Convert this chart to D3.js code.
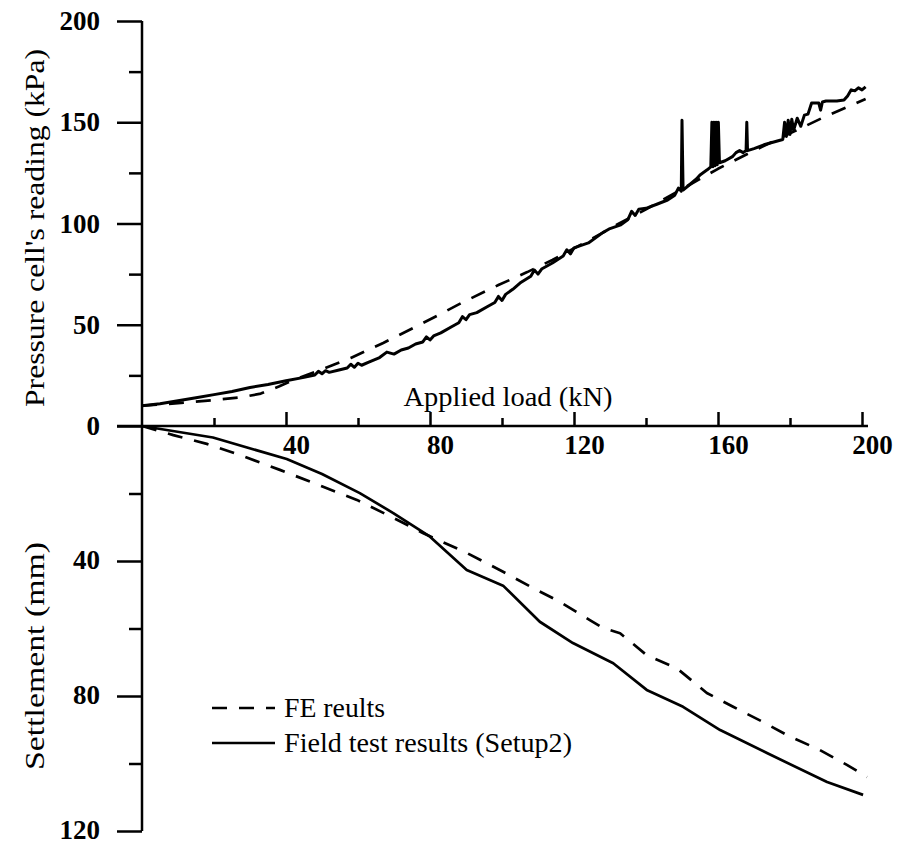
<!DOCTYPE html>
<html>
<head>
<meta charset="utf-8">
<style>
    body { margin: 0; background: #fff; }
    text { font-family: "Liberation Serif", "Times New Roman", serif; fill: #000; }
</style>
</head>
<body>
<svg width="907" height="844"></svg>
<script src="https://d3js.org/d3.v7.min.js"></script>
<script>
    // applied load (kN) vs pressure cell reading (kPa)
    var pressureFE = [
        [0, 10], [10, 11.3], [20, 12.8], [28, 14.3], [33, 16], [38, 19.5], [42, 22.7],
        [50, 28], [58, 33.6], [67, 41], [76, 49], [84, 56.3], [89, 61], [99, 69.6],
        [107, 76], [114, 82], [124, 91.5], [132, 99.5], [140, 107], [150, 117],
        [160, 127], [170, 136], [180, 144.5], [190, 153], [201, 161.5]
    ];
    var pressureField = [
        [0, 10], [5, 11], [10, 12.5], [15, 14], [20, 15.5], [25, 17], [30, 19], [35, 20.5],
        [40, 22.3], [45, 24], [48, 25.2], [49, 27], [50, 25.8], [51, 27.3], [52, 26.5],
        [55, 27.8], [57, 28.6], [58, 30.5], [59, 29], [60, 31], [61, 30], [63, 31.5],
        [66, 33.8], [68, 36.5], [70, 35.5], [72, 37.5], [74, 38.5], [76, 40.5], [78, 41.5],
        [79, 44], [80, 42.5], [81, 44.5], [83, 46], [86, 49], [88, 51], [89, 54], [90, 52.5],
        [91, 55], [93, 56], [96, 59], [98, 61], [99, 64], [100, 62], [101, 65], [103, 67.5],
        [105, 70.6], [108, 74], [109, 77], [110, 75], [111, 77.5], [114, 80.5], [117, 84],
        [118, 87], [119, 85], [120, 88], [124, 90.4], [128, 95.5], [130, 97.5], [133, 99.3],
        [135, 102], [136, 106], [137, 104], [138, 107], [140, 107.5], [143, 109.5],
        [146, 111.6], [148, 114], [149, 117.5], [149.8, 116], [150, 151], [150.3, 116.5],
        [152, 119], [154, 122], [155, 124], [157, 126.5], [158, 128], [158.3, 150],
        [158.6, 128], [158.9, 150], [159.2, 128.5], [159.5, 150], [159.8, 129], [160.1, 150],
        [160.4, 130], [162, 131], [164, 133], [165, 135], [166, 136], [167, 135],
        [167.8, 136], [168, 150], [168.2, 136], [170, 137], [173, 139], [176, 140.5],
        [178, 141.5], [178.5, 150], [179, 143], [179.5, 151], [180, 144], [180.5, 151.5],
        [181, 146], [182, 152], [183, 148], [184, 153.5], [185, 154], [186, 159.5],
        [188, 159.5], [188.5, 156], [189, 160], [190, 160.5], [193, 160.5], [195, 161],
        [196, 163], [197, 166], [198, 165.5], [199, 167], [200, 166], [201, 167.5]
    ];

    // applied load (kN) vs settlement (mm)
    var settleFE = [
        [0, 0], [8.7, 2.7], [18, 5.3], [27.2, 8.6], [38.3, 13], [50.3, 18], [59.7, 21.9],
        [69.8, 27.2], [78, 31.7], [90.2, 37.6], [96.7, 41.2], [100.3, 43.2], [108.6, 48],
        [116.1, 52.1], [124.4, 57.5], [128, 59.8], [132.8, 61.4], [140.2, 67.9],
        [148.6, 71.8], [156.9, 79.1], [164.2, 83.2], [172.5, 87.7], [179.2, 91.6],
        [188.3, 96], [195.8, 100.4], [201.4, 104]
    ];
    var settleField = [
        [0, 0], [19.7, 3.4], [40.2, 9.8], [50, 14.2], [60.5, 19.9], [69.8, 25.8], [80, 32.8],
        [90.2, 42.7], [100.3, 47.3], [110.5, 58], [119.7, 64.3], [130.9, 70.3],
        [140.2, 78.2], [150.3, 83.2], [160.6, 90.1], [173.6, 96.9], [190.3, 105.5],
        [200.3, 109.3]
    ];

    var loadTicks = [40, 80, 120, 160, 200],
        loadMinor = [20, 60, 100, 140, 180],
        pressureTicks = [0, 50, 100, 150, 200],
        pressureMinor = [25, 75, 125, 175],
        settleTicks = [40, 80, 120],
        settleMinor = [20, 60, 100];

    var legendItems = [
        { label: "FE reults", dash: "15,12", len: 101 },
        { label: "Field test results (Setup2)", dash: null, len: 288 }
    ];

    var svg = d3.select("svg");

    var x = d3.scaleLinear().domain([0, 200]).range([142, 862]);
    var yTop = d3.scaleLinear().domain([0, 200]).range([426, 21]);
    var yBot = d3.scaleLinear().domain([0, 120]).range([426, 831]);

    var dashes = "15,12";

    // left axis line
    svg.append("line")
        .attr("x1", 142).attr("x2", 142)
        .attr("y1", yTop(200)).attr("y2", yBot(120))
        .attr("stroke", "#000").attr("stroke-width", 2.5);

    // x axis line
    svg.append("line")
        .attr("x1", 117).attr("x2", 868)
        .attr("y1", 426).attr("y2", 426)
        .attr("stroke", "#000").attr("stroke-width", 2.5);

    function styleAxis(g) {
        g.select(".domain").remove();
        g.selectAll("line").attr("stroke", "#000").attr("stroke-width", 2.5);
        g.selectAll("text")
            .attr("font-weight", "bold")
            .attr("font-size", 27)
            .attr("fill", "#000");
    }

    svg.append("g")
        .attr("transform", "translate(142,0)")
        .call(d3.axisLeft(yTop).tickValues(pressureTicks).tickSize(25).tickPadding(17))
        .call(styleAxis);
    svg.append("g")
        .attr("transform", "translate(142,0)")
        .call(d3.axisLeft(yTop).tickValues(pressureMinor).tickSize(13).tickFormat(""))
        .call(styleAxis);

    svg.append("g")
        .attr("transform", "translate(142,0)")
        .call(d3.axisLeft(yBot).tickValues(settleTicks).tickSize(25).tickPadding(17))
        .call(styleAxis)
        .selectAll("text").attr("dy", "0.26em");
    svg.append("g")
        .attr("transform", "translate(142,0)")
        .call(d3.axisLeft(yBot).tickValues(settleMinor).tickSize(13).tickFormat(""))
        .call(styleAxis);

    svg.append("g")
        .attr("transform", "translate(0,426)")
        .call(d3.axisBottom(x).tickValues(loadTicks).tickSize(-14).tickPadding(9))
        .call(styleAxis)
        .selectAll("text").attr("dx", 10);
    svg.append("g")
        .attr("transform", "translate(0,426)")
        .call(d3.axisBottom(x).tickValues(loadMinor).tickSize(-8).tickFormat(""))
        .call(styleAxis);

    // titles
    svg.append("text")
        .attr("transform", "translate(44,228) rotate(-90)")
        .attr("text-anchor", "middle")
        .attr("font-size", 28)
        .attr("textLength", 358)
        .attr("lengthAdjust", "spacingAndGlyphs")
        .text("Pressure cell's reading (kPa)");
    svg.append("text")
        .attr("transform", "translate(44,656) rotate(-90)")
        .attr("text-anchor", "middle")
        .attr("font-size", 28)
        .attr("textLength", 228)
        .attr("lengthAdjust", "spacingAndGlyphs")
        .text("Settlement (mm)");
    svg.append("text")
        .attr("x", 508).attr("y", 406)
        .attr("text-anchor", "middle")
        .attr("font-size", 28)
        .attr("textLength", 209)
        .attr("lengthAdjust", "spacingAndGlyphs")
        .text("Applied load (kN)");

    var lineTop = d3.line()
        .x(function(d) { return x(d[0]); })
        .y(function(d) { return yTop(d[1]); });
    var lineBot = d3.line()
        .x(function(d) { return x(d[0]); })
        .y(function(d) { return yBot(d[1]); });

    function drawLine(data, gen, dash, w) {
        svg.append("path")
            .attr("d", gen(data))
            .attr("fill", "none")
            .attr("stroke", "#000")
            .attr("stroke-width", w)
            .attr("stroke-linejoin", "round")
            .attr("stroke-dasharray", dash);
    }

    drawLine(pressureFE, lineTop, dashes, 2.7);
    drawLine(pressureField, lineTop, null, 3);
    drawLine(settleFE, lineBot, dashes, 2.7);
    drawLine(settleField, lineBot, null, 2.7);

    // legend
    var legend = svg.append("g").attr("transform", "translate(212,708)");
    legendItems.forEach(function(item, i) {
        var row = legend.append("g").attr("transform", "translate(0," + (i * 35) + ")");
        row.append("line")
            .attr("x1", 0).attr("x2", 63)
            .attr("stroke", "#000").attr("stroke-width", 2.7)
            .attr("stroke-dasharray", item.dash);
        row.append("text")
            .attr("x", 72).attr("y", 9)
            .attr("font-size", 28)
            .attr("textLength", item.len)
            .attr("lengthAdjust", "spacingAndGlyphs")
            .text(item.label);
    });
</script>
</body>
</html>
